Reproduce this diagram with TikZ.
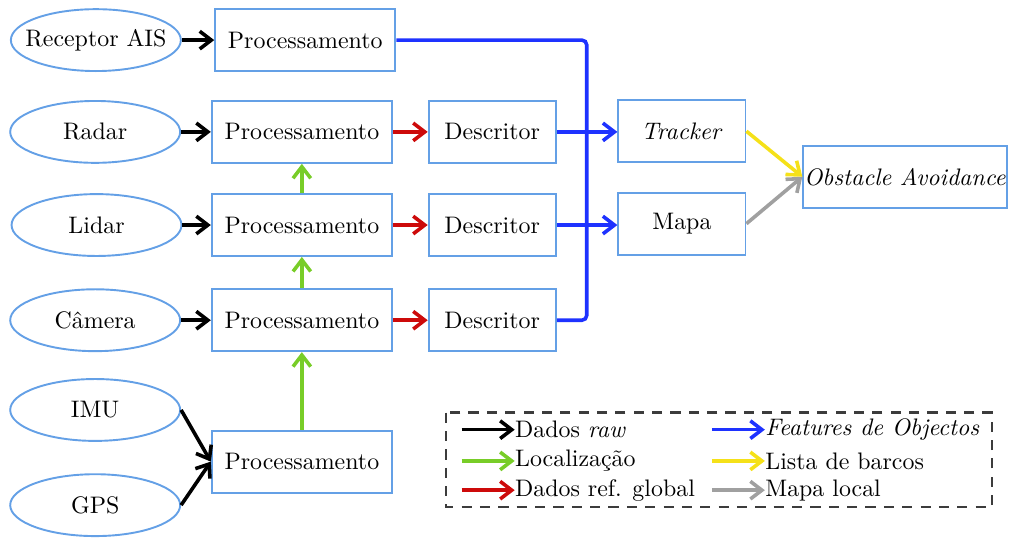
\documentclass[tikz,border=0pt]{standalone}
\usepackage{fontspec}
\usepackage{tikz}
\usetikzlibrary{shapes, arrows.meta, positioning}
\definecolor{azulborda}{RGB}{100,160,230}
\definecolor{azul}{RGB}{30,50,255}
\definecolor{verde}{RGB}{120,205,40}
\definecolor{vermelho}{RGB}{205,10,10}
\definecolor{amarelo}{RGB}{245,225,25}
\definecolor{cinza}{RGB}{160,160,160}
\definecolor{cinzaescuro}{RGB}{60,60,60}

\begin{document}
\begin{tikzpicture}[
  sensor/.style={draw=azulborda, thick, ellipse, minimum width=2.5cm, minimum height=0.91cm, inner sep=0pt},
  bloco/.style={draw=azulborda, thick, rectangle, minimum height=0.91cm, inner sep=2pt},
  seta/.style={line width=1.5pt, -{Straight Barb[length=1.7mm,width=2.6mm]}},
  ]
  \useasboundingbox (0,0) rectangle (14.9,-7.91);

  % Sensores
  \node[sensor, inner xsep=-0.16cm] (ais) at (1.41,-0.59) {Receptor AIS};
  \node[sensor] (radar) at (1.40,-1.94) {Radar};
  \node[sensor] (lidar) at (1.42,-3.31) {Lidar};
  \node[sensor] (camera) at (1.40,-4.71) {Câmera};
  \node[sensor] (imu) at (1.40,-6.03) {IMU};
  \node[sensor] (gps) at (1.40,-7.43) {GPS};

  % Blocos de processamento
  \node[bloco, minimum width=2.65cm] (p0) at (4.49,-0.59) {Processamento};
  \node[bloco, minimum width=2.65cm] (p1) at (4.44,-1.94) {Processamento};
  \node[bloco, minimum width=2.65cm] (p2) at (4.44,-3.31) {Processamento};
  \node[bloco, minimum width=2.65cm] (p3) at (4.44,-4.71) {Processamento};
  \node[bloco, minimum width=2.65cm] (p4) at (4.44,-6.79) {Processamento};

  % Descritores
  \foreach \i/\y in {1/-1.94,2/-3.31,3/-4.71}
    \node[bloco, minimum width=1.87cm] (d\i) at (7.24,\y) {Descritor};

  \node[bloco, minimum width=1.87cm] (trk) at (10.03,-1.93) {\textit{Tracker}};
  \node[bloco, minimum width=1.87cm] (mapa) at (10.03,-3.29) {Mapa};
  \node[bloco, minimum width=2.99cm, inner sep=0pt] (obs) at (13.31,-2.60) {\textit{Obstacle Avoidance}};

  % Dados raw
  \draw[seta] (ais) -- (p0);
  \draw[seta] (radar) -- (p1);
  \draw[seta] (lidar) -- (p2);
  \draw[seta] (camera) -- (p3);
  \draw[seta] (imu.east) -- (p4.west);
  \draw[seta] (gps.east) -- (p4.west);

  % Localizacao
  \draw[seta, verde] (p4) -- (p3);
  \draw[seta, verde] (p3) -- (p2);
  \draw[seta, verde] (p2) -- (p1);

  % Referencial global
  \foreach \i in {1,2,3}
    \draw[seta, vermelho] (p\i) -- (d\i);

  % Barramento azul
  \coordinate (bus1) at (8.63,-0.59);
  \coordinate (bus2) at (8.63,-4.71);
  \draw[azul, line width=1.5pt, rounded corners=2pt] (p0.east) -- (bus1) -- (bus2) -- (d3.east);
  \draw[seta, azul] (d1.east) -- (d1.east -| trk.west);
  \draw[seta, azul] (d2.east) -- (d2.east -| mapa.west);

  \draw[seta, amarelo] (trk.east) -- (obs.west);
  \draw[seta, cinza] (mapa.east) -- (obs.west);

  % Legenda
  \draw[cinzaescuro, line width=1pt, dash pattern=on 1.5mm off 1.2mm] (6.56,-6.07) rectangle (14.59,-7.46);
  \foreach \n/\y/\clr/\txt in {1/-6.32/black/{Dados \textit{raw}}, 2/-6.78/verde/Localização, 3/-7.21/vermelho/Dados ref. global} {
    \coordinate (la\n) at (6.79,\y);
    \node[right, inner sep=0pt] (ta\n) at (7.57,\y) {\txt};
    \draw[seta, \clr] (la\n) -- (ta\n.west);
  }
  \foreach \n/\y/\clr/\txt in {1/-6.32/azul/{\textit{Features de Objectos}}, 2/-6.78/amarelo/Lista de barcos, 3/-7.21/cinza/Mapa local} {
    \coordinate (lb\n) at (10.47,\y);
    \node[right, inner sep=0pt] (tb\n) at (11.25,\y) {\txt};
    \draw[seta, \clr] (lb\n) -- (tb\n.west);
  }
\end{tikzpicture}
\end{document}
